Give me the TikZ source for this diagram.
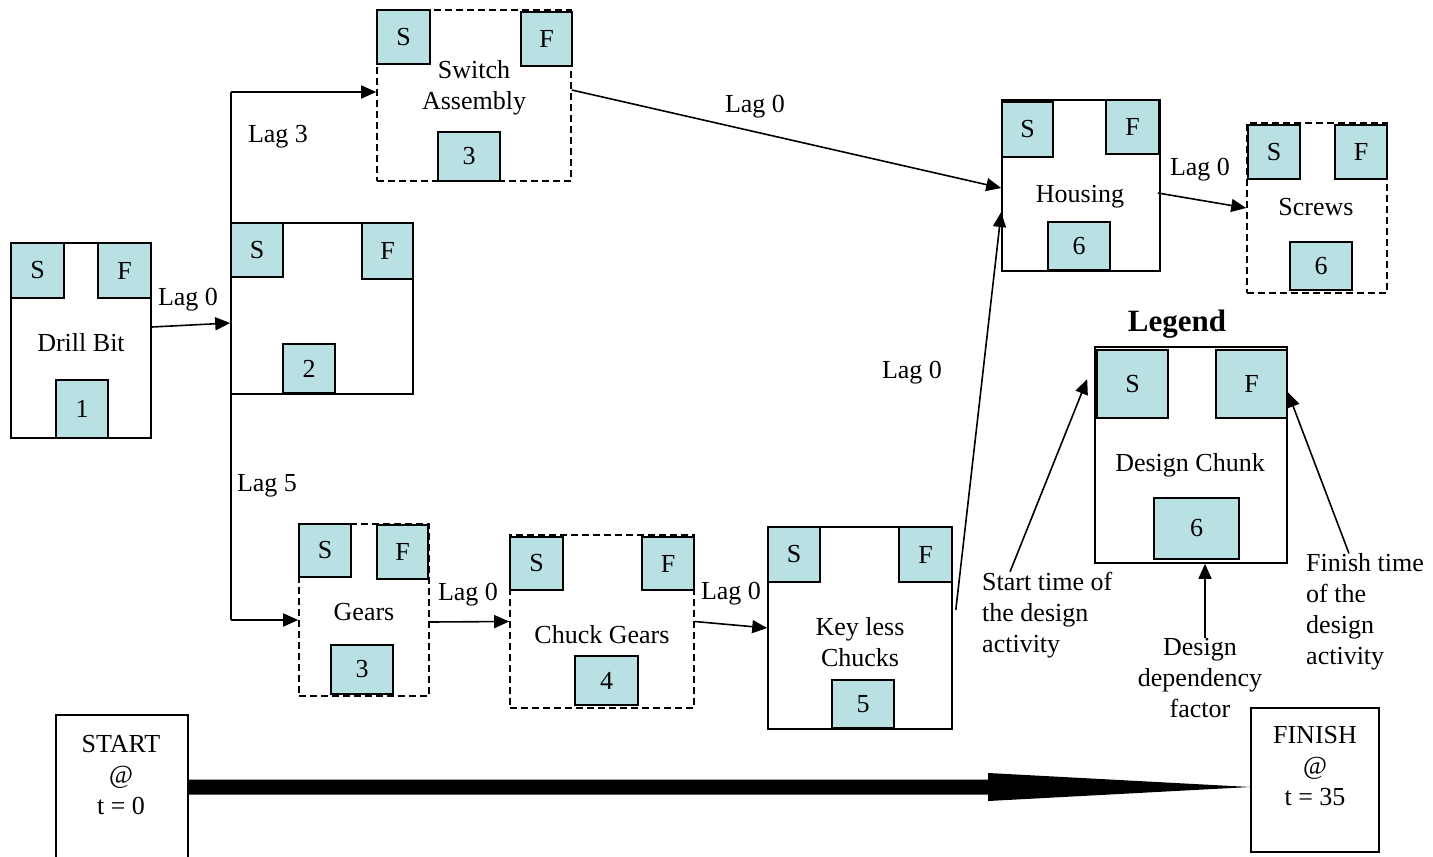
\documentclass[tikz,border=0pt]{standalone}
\usepackage{fontspec}
\setmainfont{Liberation Serif}
\usetikzlibrary{arrows.meta,fit,calc}
\definecolor{chunkfill}{RGB}{185,224,227}
\begin{document}
\begin{tikzpicture}[x=1pt,y=-1pt,
  every node/.style={font=\fontsize{26}{31}\selectfont},
  chunkbox/.style={draw, line width=1.6pt, inner sep=0pt, fit={#1}},
  chunkdash/.style={chunkbox={#1}, dash pattern=on 7pt off 4pt},
  tag/.style={draw, line width=1.6pt, fill=chunkfill, inner sep=0pt, fit={#1}},
  arr/.style={line width=1.6pt, -{Triangle[length=15pt,width=13pt]}},
  note/.style={align=left, inner sep=0pt},
]
\useasboundingbox (0,0) rectangle (1433,857);

% ---- Drill Bit
\node[chunkbox={(11,243) (151,438)}] (drill) {};
\node[tag={(11,243) (64,298)}, label=center:S] (drillS) {};
\node[tag={(98,243) (151,298)}, label=center:F] (drillF) {};
\node[tag={(56,380) (108,438)}, label=center:1] (drillN) {};
\node (drillT) at (81,343) {Drill Bit};

% ---- unnamed chunk (2)
\node[chunkbox={(231,223) (413,394)}] (work) {};
\node[tag={(231,223) (283,277)}, label=center:S] (workS) {};
\node[tag={(362,223) (413,279)}, label=center:F] (workF) {};
\node[tag={(283,344) (335,393)}, label=center:2] (workN) {};

% ---- Switch Assembly
\node[chunkdash={(377,10) (571,181)}] (switch) {};
\node[tag={(377,10) (430,64)}, label=center:S] (switchS) {};
\node[tag={(521,12) (572,66)}, label=center:F] (switchF) {};
\node[tag={(438,132) (500,181)}, label=center:3] (switchN) {};
\node[align=center] (switchT) at (474,88) {Switch\\Assembly};

% ---- Housing
\node[chunkbox={(1002,100) (1160,271)}] (housing) {};
\node[tag={(1002,102) (1053,157)}, label=center:S] (housingS) {};
\node[tag={(1106,100) (1159,154)}, label=center:F] (housingF) {};
\node[tag={(1048,222) (1110,270)}, label=center:6] (housingN) {};
\node (housingT) at (1080,197) {Housing};

% ---- Screws
\node[chunkdash={(1247,123) (1387,293)}] (screws) {};
\node[tag={(1248,125) (1300,179)}, label=center:S] (screwsS) {};
\node[tag={(1335,125) (1387,179)}, label=center:F] (screwsF) {};
\node[tag={(1290,242) (1352,290)}, label=center:6] (screwsN) {};
\node (screwsT) at (1316,207) {Screws};

% ---- Gears
\node[chunkdash={(299,524) (429,696)}] (gears) {};
\node[tag={(299,524) (351,577)}, label=center:S] (gearsS) {};
\node[tag={(377,525) (428,579)}, label=center:F] (gearsF) {};
\node[tag={(331,645) (393,694)}, label=center:3] (gearsN) {};
\node (gearsT) at (364,612) {Gears};

% ---- Chuck Gears
\node[chunkdash={(510,535) (694,708)}] (chuck) {};
\node[tag={(510,537) (563,590)}, label=center:S] (chuckS) {};
\node[tag={(642,537) (694,590)}, label=center:F] (chuckF) {};
\node[tag={(575,656) (638,705)}, label=center:4] (chuckN) {};
\node (chuckT) at (602,635) {Chuck Gears};

% ---- Key less Chucks
\node[chunkbox={(768,527) (952,729)}] (keyless) {};
\node[tag={(768,527) (820,582)}, label=center:S] (keylessS) {};
\node[tag={(899,527) (952,582)}, label=center:F] (keylessF) {};
\node[tag={(832,680) (894,728)}, label=center:5] (keylessN) {};
\node[align=center] (keylessT) at (860,642) {Key less\\Chucks};

% ---- Legend
\node[font=\fontsize{31}{36}\selectfont\bfseries] (legendH) at (1177,324) {Legend};
\node[chunkbox={(1095,347) (1287,563)}] (legend) {};
\node[tag={(1097,350) (1168,418)}, label=center:S] (legendS) {};
\node[tag={(1216,350) (1287,418)}, label=center:F] (legendF) {};
\node[tag={(1154,498) (1239,559)}, label=center:6] (legendN) {};
\node (legendT) at (1190,465) {Design Chunk};

\node[note, anchor=west] (startnote) at (982,615) {Start time of\\the design\\activity};
\node[align=center, inner sep=0pt] (depnote) at (1200,678) {Design\\dependency\\factor};
\node[note, anchor=west] (finishnote) at (1306,612) {Finish time\\of the\\design\\activity};

\draw[arr] ([xshift=28pt]startnote.north west) -- ([xshift=-7pt,yshift=-33pt]legend.north west);
\draw[arr] ([xshift=43pt]finishnote.north west) -- ([yshift=-46pt]legend.north east);
\draw[arr] ([xshift=5pt]depnote.north) -- ([xshift=5pt]depnote.north |- legend.south);

% ---- dependency links
\coordinate (lagTop) at (231,92);
\coordinate (lagBot) at (231,620);
\draw[line width=1.6pt] (lagTop) -- (lagBot);
\draw[arr] (lagTop) -- (switch.west |- lagTop);
\draw[arr] (lagBot) -- (gears.west |- lagBot);
\draw[arr] ([yshift=13.5pt]drill.east) -- ([yshift=-14.5pt]work.west);
\draw[arr] ([yshift=5.5pt]switch.east) -- ([yshift=-2.5pt]housing.west);
\draw[arr] ([xshift=-3pt,yshift=-7.5pt]housing.east) -- (screws.west);
\draw[arr] ([yshift=-12pt]gears.east) -- (chuck.west);
\draw[arr] (chuck.east) -- (keyless.west);
\draw[arr] ([xshift=3pt,yshift=18pt]keyless.east) -- ([yshift=-26.5pt]housing.west);

\node (lagA) at (188,300) {Lag 0};
\node (lagB) at (278,137) {Lag 3};
\node (lagC) at (267,486) {Lag 5};
\node (lagD) at (755,107) {Lag 0};
\node (lagE) at (1200,170) {Lag 0};
\node (lagF) at (912,373) {Lag 0};
\node (lagG) at (468,595) {Lag 0};
\node (lagH) at (731,594) {Lag 0};

% ---- start / finish with the overall time arrow
\node[chunkbox={(56,715) (188,880)}] (startbox) {};
\node[align=center] (startT) at (121,775) {START\\@\\t = 0};
\node[chunkbox={(1251,708) (1379,852)}] (finishbox) {};
\node[align=center] (finishT) at (1315,766) {FINISH\\@\\t = 35};

\coordinate (bigY) at (0,787);
\coordinate (bigL) at (startbox.east |- bigY);
\coordinate (bigR) at (finishbox.west |- bigY);
\fill ($(bigL)+(0,-7.5)$) -- ($(bigR)+(-262,-7.5)$) -- ($(bigR)+(-262,-14)$)
  -- (bigR) -- ($(bigR)+(-262,14)$) -- ($(bigR)+(-262,7.5)$) -- ($(bigL)+(0,7.5)$) -- cycle;
\end{tikzpicture}
\end{document}
